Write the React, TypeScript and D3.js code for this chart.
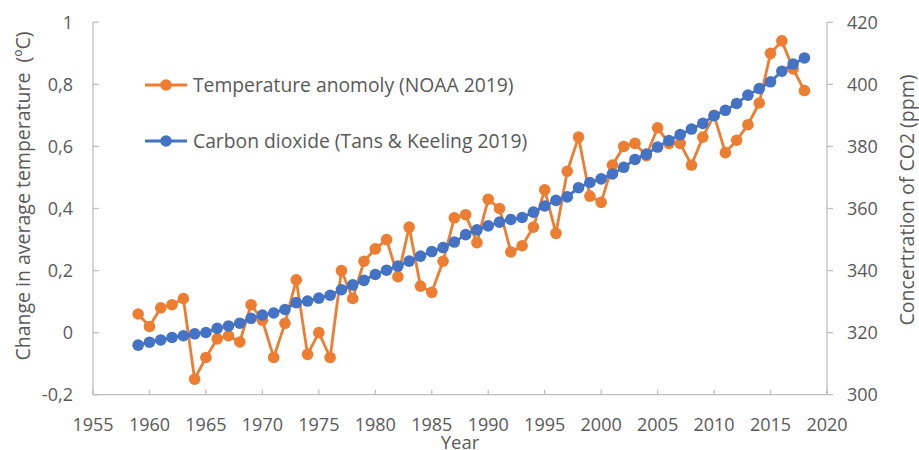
import React from "react";
import * as d3 from "d3";

const years: number[] = d3.range(1959, 2019);

const tempAnomaly: number[] = [
  0.06, 0.02, 0.08, 0.09, 0.11, -0.15, -0.08, -0.02, -0.01, -0.03,
  0.09, 0.04, -0.08, 0.03, 0.17, -0.07, 0.0, -0.08, 0.2, 0.11,
  0.23, 0.27, 0.3, 0.18, 0.34, 0.15, 0.13, 0.23, 0.37, 0.38,
  0.29, 0.43, 0.4, 0.26, 0.28, 0.34, 0.46, 0.32, 0.52, 0.63,
  0.44, 0.42, 0.54, 0.6, 0.61, 0.57, 0.66, 0.61, 0.61, 0.54,
  0.63, 0.7, 0.58, 0.62, 0.67, 0.74, 0.9, 0.94, 0.85, 0.78,
];

const co2: number[] = [
  315.97, 316.91, 317.64, 318.45, 318.99, 319.62, 320.04, 321.38, 322.16, 323.04,
  324.62, 325.68, 326.32, 327.45, 329.68, 330.18, 331.11, 332.04, 333.83, 335.4,
  336.84, 338.75, 340.11, 341.45, 343.05, 344.65, 346.12, 347.42, 349.19, 351.57,
  353.12, 354.39, 355.61, 356.45, 357.1, 358.83, 360.82, 362.61, 363.73, 366.7,
  368.38, 369.55, 371.14, 373.28, 375.8, 377.52, 379.8, 381.9, 383.79, 385.6,
  387.43, 389.9, 391.65, 393.85, 396.52, 398.65, 400.83, 404.24, 406.55, 408.52,
];

const xTicks: number[] = d3.range(1955, 2021, 5);
const leftTicks: number[] = [-0.2, 0, 0.2, 0.4, 0.6, 0.8, 1];
const rightTicks: number[] = [300, 320, 340, 360, 380, 400, 420];

const seriesNames: string[] = [
  "Temperature anomoly (NOAA 2019)",
  "Carbon dioxide (Tans & Keeling 2019)",
];

const ORANGE = "#ED7D31";
const BLUE = "#4472C4";
const AXIS = "#BFBFBF";
const TEXT = "#595959";
const FONT = "'Open Sans', 'DejaVu Sans', sans-serif";

const locale = d3.formatLocale({
  decimal: ",",
  thousands: ".",
  grouping: [3],
  currency: ["", ""],
  minus: "-",
});
const fmtLeft = locale.format("~g");

export default function App() {
  const W = 919;
  const H = 450;
  const x = d3.scaleLinear().domain([1955, 2020]).range([93, 827]);
  const yL = d3.scaleLinear().domain([-0.2, 1]).range([394.7, 22.3]);
  const yR = d3.scaleLinear().domain([300, 420]).range([394.7, 22.3]);

  const lineT = d3
    .line<number>()
    .x((_, i) => x(years[i]))
    .y((d) => yL(d));
  const lineC = d3
    .line<number>()
    .x((_, i) => x(years[i]))
    .y((d) => yR(d));

  const r = 5.8;
  const sw = 2.8;

  return (
    <svg
      width={W}
      height={H}
      style={{ position: "fixed", left: 0, top: 0, background: "#fff" }}
      fontFamily={FONT}
    >
      <rect width={W} height={H} fill="#fff" />
      {/* axes */}
      <line x1={x(1955)} x2={x(1955)} y1={yL(1)} y2={yL(-0.2)} stroke={AXIS} strokeWidth={1.3} />
      <line x1={x(2020)} x2={x(2020)} y1={yR(420)} y2={yR(300)} stroke={AXIS} strokeWidth={1.3} />
      <line x1={x(1955)} x2={x(2020)} y1={yL(-0.2)} y2={yL(-0.2)} stroke={AXIS} strokeWidth={1.3} />
      {leftTicks.map((t) => (
        <g key={"l" + t}>
          <line x1={x(1955)} x2={x(1955) + 6} y1={yL(t)} y2={yL(t)} stroke={AXIS} strokeWidth={1.3} />
          <text x={73} y={yL(t)} dy="0.36em" textAnchor="end" fontSize={18} fill={TEXT}>
            {fmtLeft(t)}
          </text>
        </g>
      ))}
      {rightTicks.map((t) => (
        <g key={"r" + t}>
          <line x1={x(2020)} x2={x(2020) + 6} y1={yR(t)} y2={yR(t)} stroke={AXIS} strokeWidth={1.3} />
          <text x={847} y={yR(t)} dy="0.36em" textAnchor="start" fontSize={18} fill={TEXT}>
            {t}
          </text>
        </g>
      ))}
      {xTicks.map((t) => (
        <g key={"x" + t}>
          <line x1={x(t)} x2={x(t)} y1={yL(-0.2)} y2={yL(-0.2) - 5} stroke={AXIS} strokeWidth={1.3} />
          <text x={x(t)} y={430.5} textAnchor="middle" fontSize={18} fill={TEXT}>
            {t}
          </text>
        </g>
      ))}
      {/* axis titles */}
      <text x={460} y={449} textAnchor="middle" fontSize={18.5} fill={TEXT}>
        Year
      </text>
      <text
        transform={`translate(29.5,196) rotate(-90)`}
        textAnchor="middle"
        fontSize={19.5}
        fill={TEXT}
        style={{ whiteSpace: "pre" }}
      >
        {"Change in average temperature  (ºC)"}
      </text>
      <text
        transform={`translate(913.5,200) rotate(-90)`}
        textAnchor="middle"
        fontSize={19.5}
        fill={TEXT}
      >
        Concertration of CO2 (ppm)
      </text>
      {/* series */}
      <path d={lineT(tempAnomaly) || ""} fill="none" stroke={ORANGE} strokeWidth={sw} strokeLinejoin="round" />
      {tempAnomaly.map((v, i) => (
        <circle key={"t" + i} cx={x(years[i])} cy={yL(v)} r={r} fill={ORANGE} />
      ))}
      <path d={lineC(co2) || ""} fill="none" stroke={BLUE} strokeWidth={sw} strokeLinejoin="round" />
      {co2.map((v, i) => (
        <circle key={"c" + i} cx={x(years[i])} cy={yR(v)} r={r} fill={BLUE} />
      ))}
      {/* legend */}
      {seriesNames.map((name, i) => {
        const ly = i === 0 ? 85 : 141;
        const col = i === 0 ? ORANGE : BLUE;
        return (
          <g key={name}>
            <line x1={145} x2={187} y1={ly} y2={ly} stroke={col} strokeWidth={sw} />
            <circle cx={166} cy={ly} r={r} fill={col} />
            <text x={193} y={ly} dy="0.36em" fontSize={19.3} fill={TEXT}>
              {name}
            </text>
          </g>
        );
      })}
    </svg>
  );
}
